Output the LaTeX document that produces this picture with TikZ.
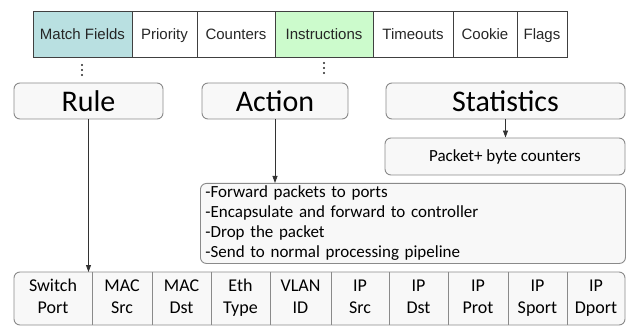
\documentclass[tikz,border=0pt]{standalone}
\usepackage{fontspec}
\setmainfont{Carlito}
\newfontfamily\arialfont{Liberation Sans}
\usetikzlibrary{
  arrows.meta,
  positioning
}
\definecolor{matchteal}{HTML}{B9E0E1}
\definecolor{instrgreen}{HTML}{CCFBCC}
\definecolor{boxgray}{HTML}{F8F8F8}
\definecolor{edgegray}{HTML}{8A8A8A}
\definecolor{linegray}{HTML}{404040}

\begin{document}
\begin{tikzpicture}[
    x=1pt, y=-1pt,
    field/.style={
      rectangle, draw=linegray, line width=0.8pt, outer sep=0pt,
      minimum height=46pt, inner sep=0pt,
      text height=14pt, text depth=2pt,
      font=\arialfont\fontsize{15}{18}\selectfont, text=black!85
    },
    part/.style={
      rectangle, draw=edgegray, rounded corners=6pt,
      fill=boxgray, line width=0.9pt,
      minimum height=36pt, inner sep=0pt,
      font=\fontsize{30}{32}\selectfont
    },
    note/.style={
      rectangle, draw=edgegray, rounded corners=6pt,
      fill=boxgray, line width=0.9pt, inner sep=0pt,
      font=\fontsize{17}{20}\selectfont
    },
    header/.style={
      rectangle, outer sep=0pt, inner sep=0pt,
      minimum height=53pt, align=center,
      font=\fontsize{18}{22}\selectfont
    },
    arrow/.style={-{Triangle[length=7pt,width=5pt]}, line width=0.8pt, black!80},
  ]
  \useasboundingbox (0,0) rectangle (627,326);

  % --- Flow entry fields ---
  \node[field, fill=matchteal, minimum width=99pt, anchor=north west] (match) at (33,11) {Match Fields};
  \node[field, minimum width=65pt, right=0pt of match] (priority) {Priority};
  \node[field, minimum width=78pt, right=0pt of priority] (counters) {Counters};
  \node[field, fill=instrgreen, minimum width=98pt, right=0pt of counters] (instr) {Instructions};
  \node[field, minimum width=80pt, right=0pt of instr] (timeouts) {Timeouts};
  \node[field, minimum width=64pt, right=0pt of timeouts] (cookie) {Cookie};
  \node[field, minimum width=50pt, right=0pt of cookie] (flags) {Flags};

  % --- Dots under fields ---
  \coordinate (rulemark) at (82,70);
  \coordinate (instrmark) at (324,68);
  \foreach \d in {-5,0,5} {
    \fill[black!85] ([yshift=\d pt]rulemark) circle (1.2pt);
    \fill[black!85] ([yshift=\d pt]instrmark) circle (1.2pt);
  }

  % --- Parts ---
  \node[part, minimum width=149pt] (rule) at (88.5,101) {Rule};
  \node[part, minimum width=146pt] (action) at (275,101) {Action};
  \node[part, minimum width=239pt] (stats) at (505.5,101) {Statistics};

  \node[note, minimum width=240pt, minimum height=37pt] (bytes) at (505,156.5)
    {Packet+ byte counters};

  \node[note, minimum width=425pt, minimum height=80pt, inner xsep=5pt,
    text width=415pt, align=left, anchor=north west] (todo) at (200,183)
    {-Forward packets to ports\strut\\
     -Encapsulate and forward to controller\strut\\
     -Drop the packet\strut\\
     -Send to normal processing pipeline\strut};

  % --- Header fields ---
  \node[rectangle, draw=edgegray, rounded corners=6pt, fill=boxgray, line width=0.9pt,
    minimum width=611pt, minimum height=53pt, inner sep=0pt] (hdr) at (319.5,298.5) {};
  \node[header, minimum width=78pt, anchor=north west] (port) at (14,272) {Switch\strut\\Port\strut};
  \node[header, minimum width=60pt, right=0pt of port] (macsrc) {MAC\strut\\Src\strut};
  \node[header, minimum width=59pt, right=0pt of macsrc] (macdst) {MAC\strut\\Dst\strut};
  \node[header, minimum width=59pt, right=0pt of macdst] (ethtype) {Eth\strut\\Type\strut};
  \node[header, minimum width=61pt, right=0pt of ethtype] (vlan) {VLAN\strut\\ID\strut};
  \node[header, minimum width=58pt, right=0pt of vlan] (ipsrc) {IP\strut\\Src\strut};
  \node[header, minimum width=59pt, right=0pt of ipsrc] (ipdst) {IP\strut\\Dst\strut};
  \node[header, minimum width=60pt, right=0pt of ipdst] (ipprot) {IP\strut\\Prot\strut};
  \node[header, minimum width=59pt, right=0pt of ipprot] (ipsport) {IP\strut\\Sport\strut};
  \node[header, minimum width=58pt, right=0pt of ipsport] (ipdport) {IP\strut\\Dport\strut};
  \foreach \c in {port,macsrc,macdst,ethtype,vlan,ipsrc,ipdst,ipprot,ipsport}
    \draw[edgegray, line width=0.9pt] (\c.north east) -- (\c.south east);

  % --- Arrows ---
  \draw[arrow] (rule.south) -- (rule.south |- port.north);
  \draw[arrow] (action.south) -- (action.south |- todo.north);
  \draw[arrow] (stats.south) -- (stats.south |- bytes.north);
\end{tikzpicture}
\end{document}
